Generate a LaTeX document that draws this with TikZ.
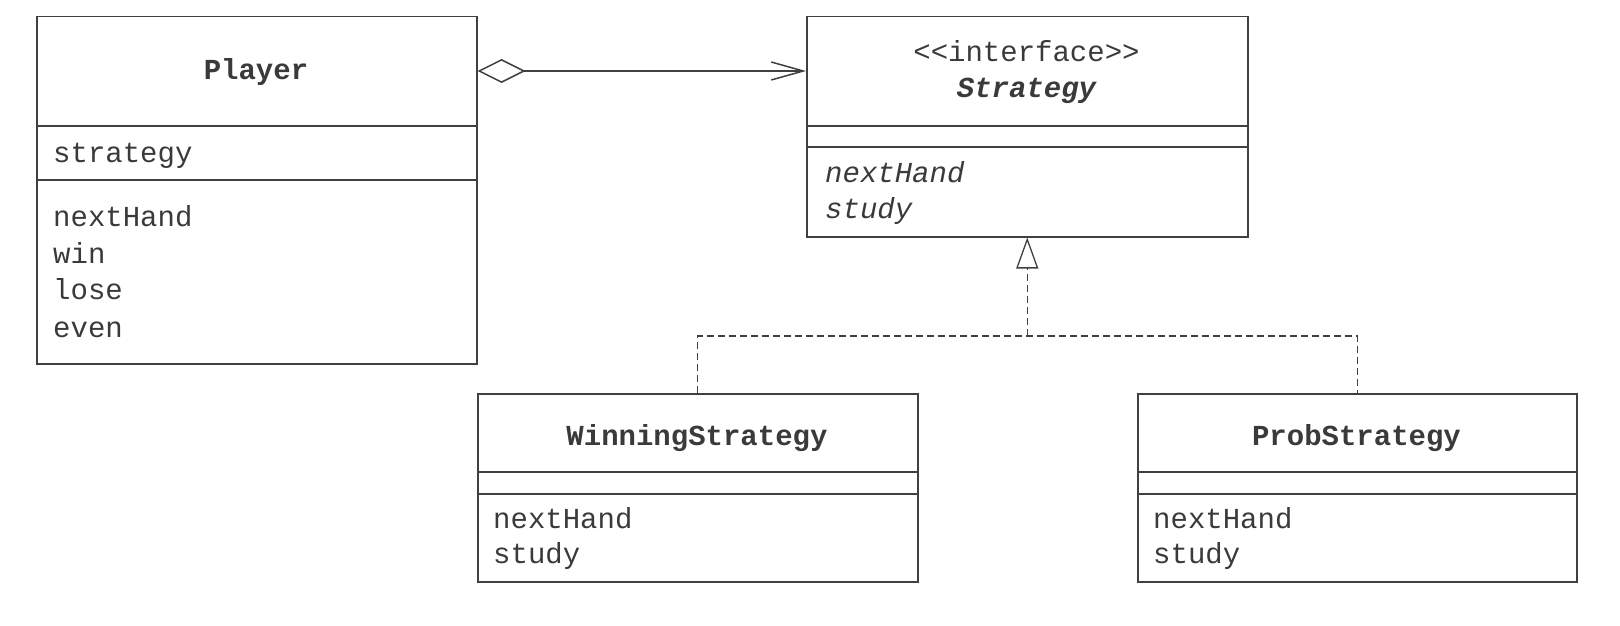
\documentclass[tikz,border=0pt]{standalone}
\usepackage{fontspec}
\setmonofont{Liberation Mono}
\usetikzlibrary{arrows.meta}
\definecolor{ink}{HTML}{3A3A3A}
\definecolor{edge}{HTML}{404040}
\begin{document}
\begin{tikzpicture}[x=1pt,y=-1pt,
  classbox/.style={draw=edge,line width=1.5pt,inner sep=0pt,anchor=north west,fill=none},
  divider/.style={draw=edge,line width=1.5pt},
  txt/.style={inner sep=0pt,text=ink,font=\fontsize{29}{36}\selectfont\ttfamily},
  nametxt/.style={txt,anchor=base,font=\fontsize{29}{36}\selectfont\ttfamily\bfseries},
  itemtxt/.style={txt,anchor=base west},
  aggr/.style={draw=edge,line width=1.5pt,{Diamond[open,length=48pt,width=24pt]}-{Straight Barb[length=32pt,width=18pt]}},
  realize/.style={draw=edge,line width=1.3pt,dash pattern=on 7pt off 4pt},
  realtip/.style={realize,-{Triangle[open,length=31pt,width=22pt,fill=white]}}
]
\useasboundingbox (0,0) rectangle (1620,626);

% Player
\node[classbox,minimum width=440pt,minimum height=347pt] (player) at (36,16) {};
\draw[divider] (36,126) -- (476,126);
\draw[divider] (36,180) -- (476,180);
\node[nametxt] (pname) at (256,80) {Player};
\node[itemtxt] (pattr) at (53,162) {strategy};
\node[itemtxt] (pm1) at (53,226) {nextHand};
\node[itemtxt] (pm2) at (53,263) {win};
\node[itemtxt] (pm3) at (53,299) {lose};
\node[itemtxt] (pm4) at (53,337) {even};

% Strategy
\node[classbox,minimum width=441pt,minimum height=220pt] (strategy) at (806,16) {};
\draw[divider] (806,126) -- (1247,126);
\draw[divider] (806,147) -- (1247,147);
\node[txt,anchor=base] (stereo) at (1026.5,62) {<<interface>>};
\node[nametxt,font=\fontsize{29}{36}\selectfont\ttfamily\bfseries\itshape] (sname) at (1026.5,98) {Strategy};
\node[itemtxt,font=\fontsize{29}{36}\selectfont\ttfamily\itshape] (sm1) at (825,182) {nextHand};
\node[itemtxt,font=\fontsize{29}{36}\selectfont\ttfamily\itshape] (sm2) at (825,218) {study};

% WinningStrategy
\node[classbox,minimum width=440pt,minimum height=188pt] (winning) at (477,393) {};
\draw[divider] (477,472) -- (917,472);
\draw[divider] (477,494) -- (917,494);
\node[nametxt] (wname) at (697,445) {WinningStrategy};
\node[itemtxt] (wm1) at (493,528) {nextHand};
\node[itemtxt] (wm2) at (493,563) {study};

% ProbStrategy
\node[classbox,minimum width=439pt,minimum height=188pt] (prob) at (1137,393) {};
\draw[divider] (1137,472) -- (1576,472);
\draw[divider] (1137,494) -- (1576,494);
\node[nametxt] (prname) at (1356.5,445) {ProbStrategy};
\node[itemtxt] (prm1) at (1153,528) {nextHand};
\node[itemtxt] (prm2) at (1153,563) {study};

% connectors
\draw[aggr] ([yshift=-55pt]player.north east) -- ([yshift=-55pt]strategy.north west);
\coordinate (junction) at (strategy.south |- 0,336);
\draw[realize] (winning.north) |- (junction) -| (prob.north);
\draw[realtip] (junction) -- (strategy.south);
\end{tikzpicture}
\end{document}
